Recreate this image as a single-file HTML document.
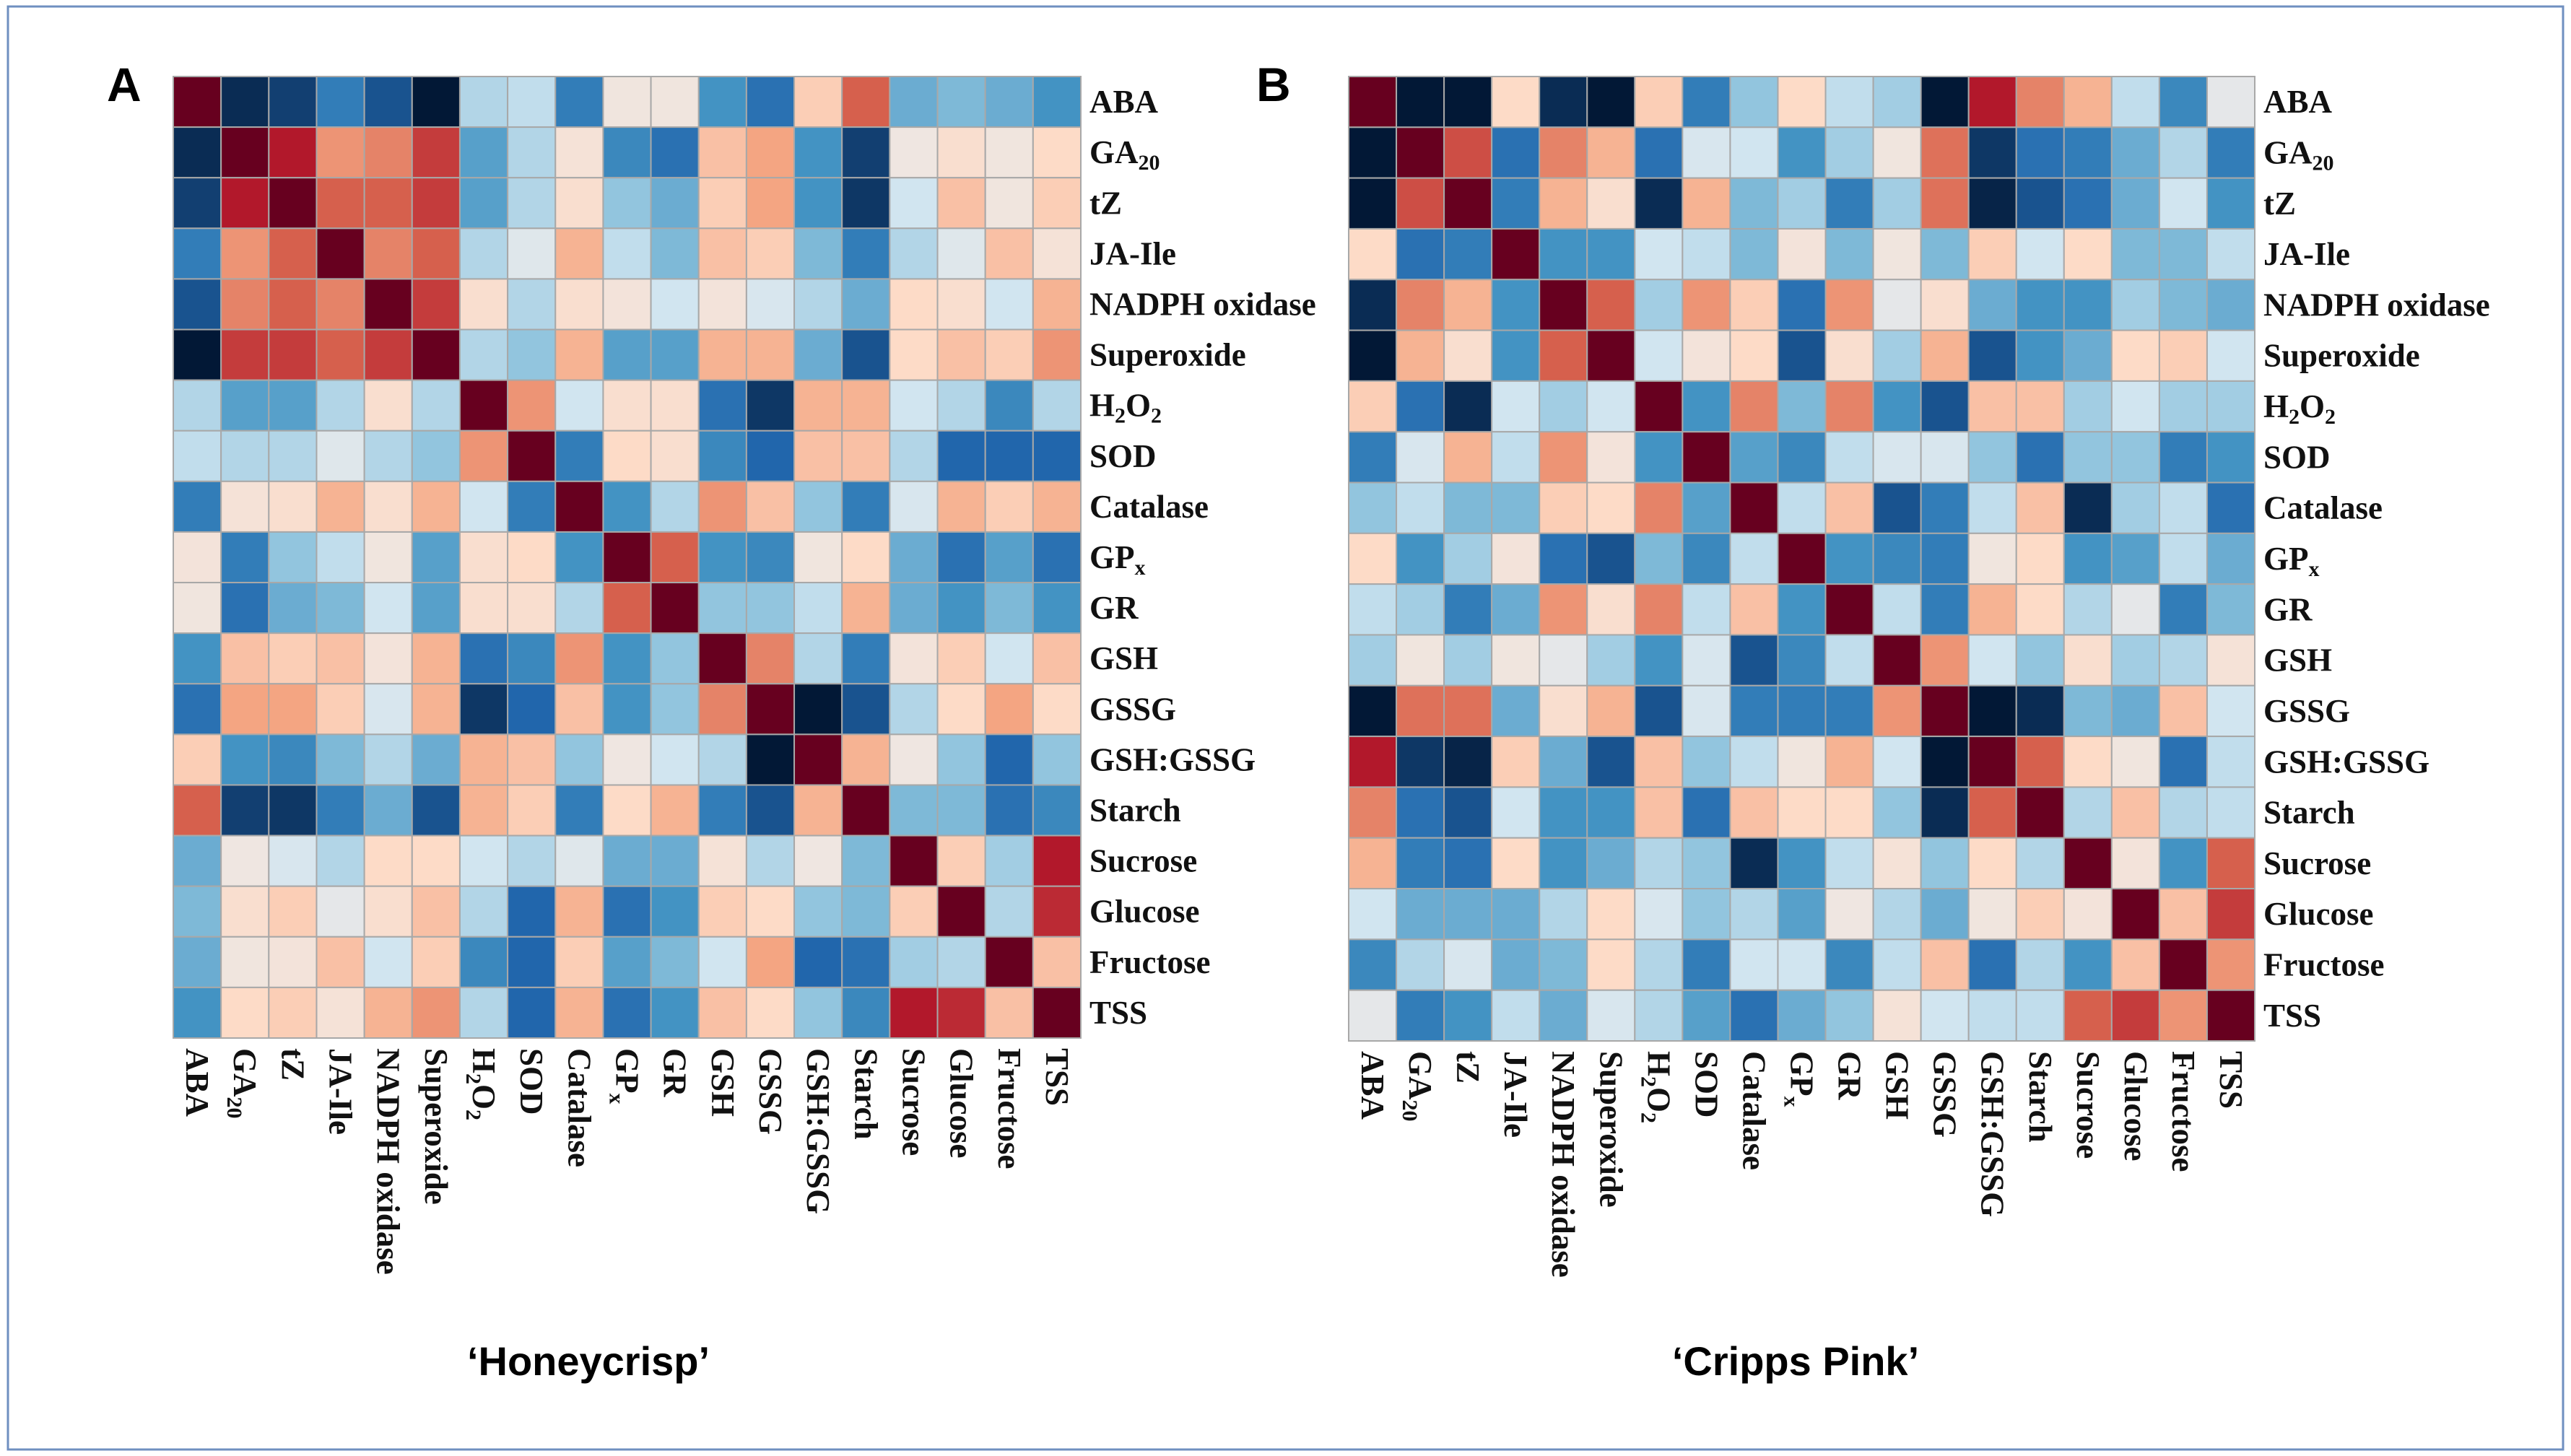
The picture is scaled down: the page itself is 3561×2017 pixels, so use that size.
<!DOCTYPE html>
<html><head><meta charset="utf-8">
<style>
html,body{margin:0;padding:0;background:#fff;}
svg{display:block;}
</style></head>
<body>
<svg id="fig" width="3561" height="2017" viewBox="0 0 3561 2017" xmlns="http://www.w3.org/2000/svg">
<rect x="11" y="9" width="3539" height="1999" fill="#fff" stroke="#6f8fc0" stroke-width="3"/>
<text x="148" y="140" font-family="Liberation Sans, sans-serif" font-weight="bold" font-size="66">A</text>
<text x="1740" y="140" font-family="Liberation Sans, sans-serif" font-weight="bold" font-size="66">B</text>
<text x="815" y="1905" text-anchor="middle" font-family="Liberation Sans, sans-serif" font-weight="bold" font-size="56">‘Honeycrisp’</text>
<text x="2487" y="1905" text-anchor="middle" font-family="Liberation Sans, sans-serif" font-weight="bold" font-size="56">‘Cripps Pink’</text>
<g id="panelA"></g>
<g id="panelB"></g>
</svg>
<script>
const variables = ["ABA","GA20","tZ","JA-Ile","NADPH oxidase","Superoxide","H2O2","SOD","Catalase","GPx","GR","GSH","GSSG","GSH:GSSG","Starch","Sucrose","Glucose","Fructose","TSS"];
const honeycrispValues = [
[1,-0.95,-0.9,-0.7,-0.85,-1,-0.3,-0.25,-0.7,0.05,0.05,-0.6,-0.75,0.25,0.6,-0.5,-0.45,-0.5,-0.6],
[-0.95,1,0.8,0.45,0.5,0.7,-0.55,-0.3,0.1,-0.65,-0.75,0.3,0.4,-0.6,-0.9,0.03,0.15,0.05,0.2],
[-0.9,0.8,1,0.6,0.6,0.7,-0.55,-0.3,0.15,-0.4,-0.5,0.25,0.4,-0.6,-0.92,-0.2,0.3,0.05,0.25],
[-0.7,0.45,0.6,1,0.5,0.6,-0.3,-0.1,0.35,-0.25,-0.45,0.3,0.25,-0.45,-0.7,-0.3,-0.1,0.3,0.1],
[-0.85,0.5,0.6,0.5,1,0.7,0.15,-0.3,0.15,0.08,-0.2,0.08,-0.15,-0.3,-0.5,0.2,0.15,-0.2,0.35],
[-1,0.7,0.7,0.6,0.7,1,-0.3,-0.4,0.35,-0.55,-0.55,0.35,0.35,-0.5,-0.85,0.2,0.3,0.25,0.45],
[-0.3,-0.55,-0.55,-0.3,0.15,-0.3,1,0.45,-0.2,0.15,0.15,-0.75,-0.92,0.35,0.35,-0.2,-0.3,-0.65,-0.3],
[-0.25,-0.3,-0.3,-0.1,-0.3,-0.4,0.45,1,-0.7,0.2,0.15,-0.65,-0.8,0.3,0.3,-0.3,-0.8,-0.8,-0.8],
[-0.7,0.1,0.15,0.35,0.15,0.35,-0.2,-0.7,1,-0.6,-0.3,0.45,0.3,-0.4,-0.7,-0.15,0.35,0.25,0.35],
[0.08,-0.7,-0.4,-0.25,0.05,-0.55,0.15,0.2,-0.6,1,0.6,-0.6,-0.65,0.05,0.2,-0.5,-0.75,-0.55,-0.75],
[0.05,-0.75,-0.5,-0.45,-0.2,-0.55,0.15,0.15,-0.3,0.6,1,-0.4,-0.4,-0.25,0.35,-0.5,-0.6,-0.45,-0.6],
[-0.6,0.3,0.25,0.3,0.08,0.35,-0.75,-0.65,0.45,-0.6,-0.4,1,0.5,-0.3,-0.7,0.08,0.25,-0.2,0.3],
[-0.75,0.4,0.4,0.25,-0.15,0.35,-0.92,-0.8,0.3,-0.6,-0.4,0.5,1,-1,-0.85,-0.3,0.2,0.4,0.2],
[0.25,-0.6,-0.65,-0.45,-0.3,-0.5,0.35,0.3,-0.4,0.03,-0.2,-0.3,-1,1,0.35,0.03,-0.4,-0.8,-0.4],
[0.6,-0.9,-0.92,-0.7,-0.5,-0.85,0.35,0.25,-0.7,0.2,0.35,-0.7,-0.85,0.35,1,-0.45,-0.45,-0.75,-0.65],
[-0.5,0.03,-0.15,-0.3,0.2,0.2,-0.2,-0.3,-0.1,-0.5,-0.5,0.1,-0.3,0.03,-0.45,1,0.25,-0.35,0.8],
[-0.45,0.15,0.25,-0.05,0.15,0.3,-0.3,-0.8,0.35,-0.75,-0.6,0.25,0.2,-0.4,-0.45,0.25,1,-0.3,0.75],
[-0.5,0.05,0.08,0.3,-0.2,0.25,-0.65,-0.8,0.25,-0.55,-0.45,-0.2,0.4,-0.8,-0.75,-0.35,-0.3,1,0.3],
[-0.6,0.2,0.25,0.1,0.35,0.45,-0.3,-0.8,0.35,-0.75,-0.6,0.3,0.2,-0.4,-0.65,0.8,0.75,0.3,1]
];
const crippsPinkValues = [
[1,-1,-1,0.2,-0.95,-1,0.25,-0.7,-0.4,0.2,-0.25,-0.35,-1,0.8,0.5,0.35,-0.25,-0.65,-0.05],
[-1,1,0.65,-0.75,0.5,0.35,-0.75,-0.15,-0.2,-0.6,-0.35,0.05,0.55,-0.92,-0.75,-0.7,-0.5,-0.3,-0.7],
[-1,0.65,1,-0.7,0.35,0.15,-0.95,0.35,-0.45,-0.35,-0.7,-0.35,0.55,-0.97,-0.85,-0.75,-0.5,-0.2,-0.6],
[0.2,-0.75,-0.7,1,-0.6,-0.6,-0.2,-0.25,-0.45,0.08,-0.45,0.05,-0.45,0.25,-0.2,0.2,-0.45,-0.45,-0.25],
[-0.95,0.5,0.35,-0.6,1,0.6,-0.35,0.45,0.25,-0.75,0.45,-0.05,0.15,-0.5,-0.6,-0.6,-0.35,-0.45,-0.5],
[-1,0.35,0.15,-0.6,0.6,1,-0.2,0.08,0.2,-0.85,0.15,-0.35,0.35,-0.85,-0.6,-0.5,0.2,0.25,-0.2],
[0.25,-0.75,-0.95,-0.2,-0.35,-0.2,1,-0.6,0.5,-0.45,0.5,-0.6,-0.85,0.3,0.3,-0.35,-0.2,-0.35,-0.35],
[-0.7,-0.15,0.35,-0.25,0.45,0.08,-0.6,1,-0.55,-0.65,-0.25,-0.15,-0.15,-0.4,-0.75,-0.4,-0.4,-0.7,-0.6],
[-0.4,-0.25,-0.45,-0.45,0.25,0.2,0.5,-0.55,1,-0.25,0.3,-0.85,-0.7,-0.25,0.3,-0.95,-0.35,-0.25,-0.75],
[0.2,-0.6,-0.35,0.08,-0.75,-0.85,-0.45,-0.65,-0.25,1,-0.6,-0.65,-0.7,0.05,0.2,-0.6,-0.55,-0.25,-0.5],
[-0.25,-0.35,-0.7,-0.5,0.45,0.15,0.5,-0.25,0.3,-0.6,1,-0.25,-0.7,0.35,0.2,-0.3,-0.05,-0.7,-0.45],
[-0.35,0.05,-0.35,0.05,-0.05,-0.35,-0.6,-0.15,-0.85,-0.65,-0.25,1,0.45,-0.2,-0.4,0.15,-0.35,-0.3,0.1],
[-1,0.55,0.55,-0.5,0.15,0.35,-0.85,-0.15,-0.7,-0.7,-0.7,0.45,1,-1,-0.95,-0.45,-0.5,0.3,-0.2],
[0.8,-0.92,-0.97,0.25,-0.5,-0.85,0.3,-0.4,-0.25,0.05,0.35,-0.2,-1,1,0.6,0.2,0.05,-0.75,-0.25],
[0.5,-0.75,-0.85,-0.2,-0.6,-0.6,0.3,-0.75,0.3,0.2,0.2,-0.4,-0.95,0.6,1,-0.3,0.3,-0.3,-0.25],
[0.35,-0.7,-0.75,0.2,-0.6,-0.5,-0.3,-0.4,-0.95,-0.6,-0.25,0.1,-0.4,0.2,-0.3,1,0.08,-0.6,0.6],
[-0.2,-0.5,-0.5,-0.5,-0.3,0.2,-0.15,-0.4,-0.3,-0.55,0.03,-0.3,-0.5,0.05,0.25,0.08,1,0.3,0.7],
[-0.65,-0.3,-0.15,-0.5,-0.45,0.2,-0.3,-0.7,-0.2,-0.2,-0.65,-0.25,0.3,-0.75,-0.3,-0.6,0.3,1,0.45],
[-0.05,-0.7,-0.6,-0.25,-0.5,-0.15,-0.3,-0.55,-0.75,-0.5,-0.4,0.1,-0.2,-0.25,-0.25,0.6,0.7,0.45,1]
];
const NS="http://www.w3.org/2000/svg";
const stops=[[-1,[2,24,54]],[-0.8,[33,102,172]],[-0.6,[67,147,195]],[-0.4,[146,197,222]],[-0.2,[209,229,240]],[0,[236,232,230]],[0.2,[253,219,199]],[0.4,[244,165,130]],[0.6,[214,96,77]],[0.8,[178,24,43]],[1,[103,0,31]]];
function colorScale(v){
  v=Math.max(-1,Math.min(1,v));
  for(let i=0;i<stops.length-1;i++){
    const a=stops[i],b=stops[i+1];
    if(v<=b[0]){const t=(v-a[0])/(b[0]-a[0]);
      return "rgb("+a[1].map((c,k)=>Math.round(c+(b[1][k]-c)*t)).join(",")+")";}
  }
  return "rgb(103,0,31)";
}
function labelText(t,name,x,y,rot){
  const el=document.createElementNS(NS,"text");
  el.setAttribute("font-family","Liberation Serif, serif");
  el.setAttribute("font-weight","bold");
  el.setAttribute("font-size","45");
  el.setAttribute("fill","#111");
  
  
  const subs={"GA20":["GA","20"],"H2O2":["H","2","O","2"],"GPx":["GP","x"]};
  if(subs[t]){
    const parts=subs[t];
    parts.forEach((p,i)=>{const s=document.createElementNS(NS,"tspan");s.textContent=p;
      if(i%2===1){s.setAttribute("font-size","30");s.setAttribute("dy","9");}
      else if(i>0){s.setAttribute("dy","-9");}
      el.appendChild(s);});
  } else el.textContent=t;
  if(rot){el.setAttribute("transform","translate("+x+","+y+") rotate(90)");el.setAttribute("x","0");el.setAttribute("y","15");}
  else{el.setAttribute("x",x);el.setAttribute("y",y);}
  return el;
}
function drawPanel(gid,values,left,top,right,bottom,prefix){
  const g=document.getElementById(gid);
  const n=variables.length;
  const cw=(right-left)/n, ch=(bottom-top)/n;
  const xPos=i=>left+i*cw, yPos=i=>top+i*ch;
  for(let r=0;r<n;r++)for(let c=0;c<n;c++){
    const rect=document.createElementNS(NS,"rect");
    rect.setAttribute("x",xPos(c));rect.setAttribute("y",yPos(r));
    rect.setAttribute("width",cw);rect.setAttribute("height",ch);
    rect.setAttribute("fill",colorScale(values[r][c]));
    rect.setAttribute("stroke","#a8a8a8");rect.setAttribute("stroke-width","2");
    
    
    g.appendChild(rect);
  }
  variables.forEach((v,i)=>{
    g.appendChild(labelText(v,prefix+"-row-label-"+i,right+12,yPos(i)+ch/2+15,false));
    g.appendChild(labelText(v,prefix+"-col-label-"+i,xPos(i)+cw/2,bottom+14,true));
  });
}
drawPanel("panelA",honeycrispValues,240,106,1497,1438,"honeycrisp");
drawPanel("panelB",crippsPinkValues,1868,106,3123,1442,"cripps-pink");
</script>
</body></html>
